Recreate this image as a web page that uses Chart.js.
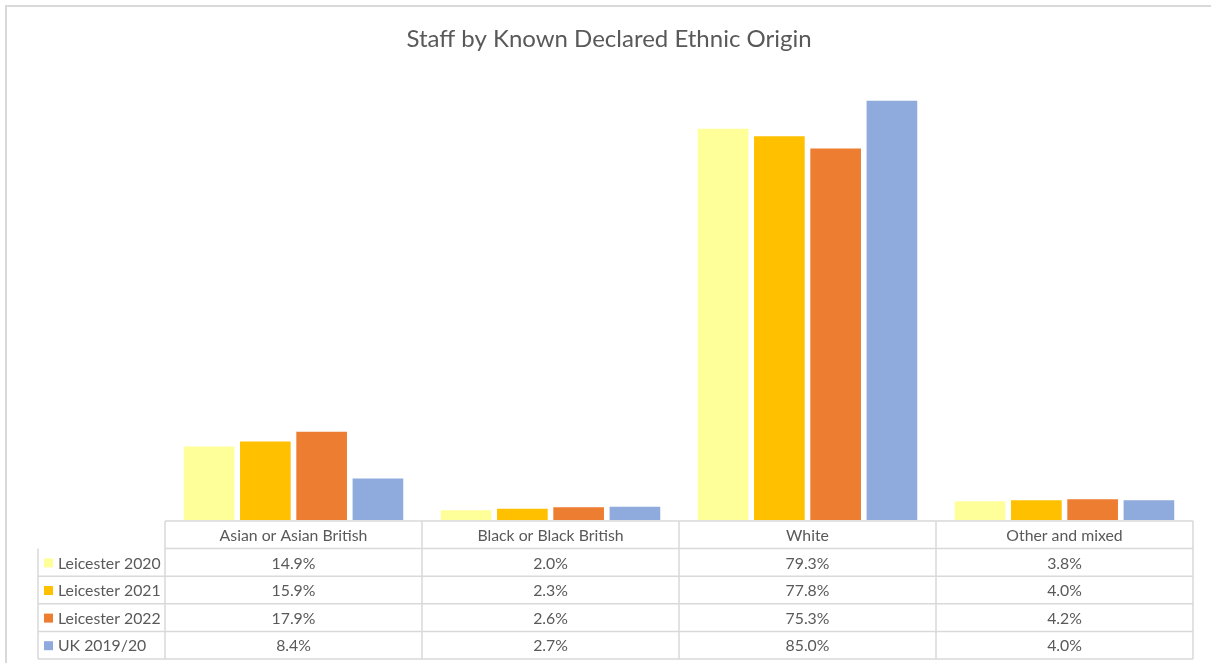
<!DOCTYPE html>
<html>
<head>
<meta charset="utf-8">
<script src="https://cdn.jsdelivr.net/npm/chart.js@4.4.1/dist/chart.umd.min.js"></script>
<style>
  html, body { margin: 0; padding: 0; background: #fff; }
  #wrap { width: 1211px; height: 663px; position: relative; }
</style>
</head>
<body>
<div id="wrap"><canvas id="chart" width="1211" height="663"></canvas></div>
<script>
// chart data
const categories = ['Asian or Asian British', 'Black or Black British', 'White', 'Other and mixed'];
const seriesNames = ['Leicester 2020', 'Leicester 2021', 'Leicester 2022', 'UK 2019/20'];
const leicester2020 = [14.9, 2.0, 79.3, 3.8];
const leicester2021 = [15.9, 2.3, 77.8, 4.0];
const leicester2022 = [17.9, 2.6, 75.3, 4.2];
const uk201920 = [8.4, 2.7, 85.0, 4.0];
const seriesColors = ['#FFFF99', '#FFC000', '#ED7D31', '#8FAADC'];

const FONT = 'Lato, "Liberation Sans", sans-serif';
const TEXT = '#595959';
const GRID = '#D9D9D9';

// draws the title, outer frame and the data table under the bars
const tablePlugin = {
    id: 'dataTable',
    afterDraw(chart) {
        const ctx = chart.ctx;
        const area = chart.chartArea;
        const x = chart.scales.x;
        const n = categories.length;
        const colW = (x.right - x.left) / n;
        const top = area.bottom + 1;
        const rowH = 27.6;
        const legendLeft = 38;

        ctx.save();

        // outer frame
        ctx.strokeStyle = GRID;
        ctx.lineWidth = 2;
        ctx.strokeRect(6, 6, 1300, 1300);

        // title
        ctx.fillStyle = TEXT;
        ctx.font = '24px ' + FONT;
        ctx.textAlign = 'center';
        ctx.textBaseline = 'middle';
        ctx.fillText('Staff by Known Declared Ethnic Origin', 609, 39);

        ctx.strokeStyle = GRID;
        ctx.lineWidth = 1.5;
        // table grid
        ctx.beginPath();
        ctx.moveTo(x.left, top); ctx.lineTo(x.right, top);
        for (let r = 1; r <= seriesNames.length + 1; r++) {
            const y = top + r * rowH;
            ctx.moveTo(r === 1 ? x.left : legendLeft, y);
            ctx.lineTo(x.right, y);
        }
        ctx.moveTo(legendLeft, top + rowH);
        ctx.lineTo(legendLeft, top + rowH * (seriesNames.length + 1));
        for (let c = 0; c <= n; c++) {
            const xx = x.left + c * colW;
            ctx.moveTo(xx, top);
            ctx.lineTo(xx, top + rowH * (seriesNames.length + 1));
        }
        ctx.stroke();

        ctx.font = '15.8px ' + FONT;
        ctx.fillStyle = TEXT;
        categories.forEach((cat, i) => {
            ctx.fillText(cat, x.getPixelForValue(i), top + rowH / 2 + 1);
        });

        chart.data.datasets.forEach((ds, r) => {
            const cy = top + rowH * (r + 1) + rowH / 2 + 1;
            ctx.fillStyle = ds.backgroundColor;
            ctx.fillRect(44, cy - 5, 9, 9);
            ctx.fillStyle = TEXT;
            ctx.textAlign = 'left';
            ctx.fillText(ds.label, 58, cy);
            ctx.textAlign = 'center';
            ds.data.forEach((v, i) => {
                ctx.fillText(v.toFixed(1) + '%', x.getPixelForValue(i), cy);
            });
        });

        ctx.restore();
    }
};

const ctx = document.getElementById('chart').getContext('2d');
new Chart(ctx, {
    type: 'bar',
    data: {
        labels: categories,
        datasets: [leicester2020, leicester2021, leicester2022, uk201920].map((d, i) => ({
            label: seriesNames[i],
            data: d,
            backgroundColor: seriesColors[i],
            borderWidth: 0,
            barPercentage: 0.9,
            categoryPercentage: 0.876
        }))
    },
    options: {
        responsive: false,
        animation: false,
        layout: { padding: { top: 76, bottom: 143, left: 165, right: 18 } },
        plugins: {
            legend: { display: false },
            title: { display: false },
            tooltip: { enabled: false }
        },
        scales: {
            x: { display: false },
            y: { display: false, min: 0, max: 90 }
        }
    },
    plugins: [tablePlugin]
});
</script>
</body>
</html>
